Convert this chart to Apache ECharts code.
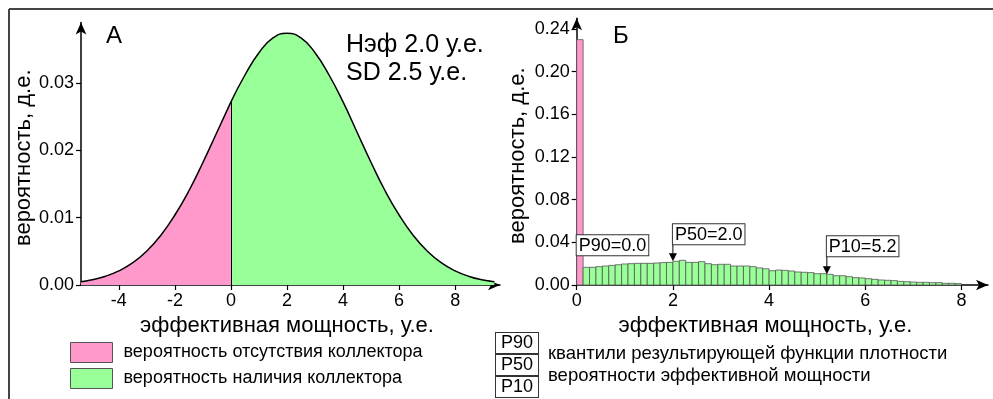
<!DOCTYPE html>
<html>
<head>
<meta charset="utf-8">
<script src="https://cdn.jsdelivr.net/npm/echarts@6/dist/echarts.min.js"></script>
<style>
  html, body { margin: 0; padding: 0; background: #fff; }
  #chart { width: 993px; height: 399px; }
</style>
</head>
<body>
<div id="chart"></div>
<script>
// ---- Panel А: probability curve of effective thickness ----
const curveX = [-5.35, -5, -4.5, -4, -3.5, -3, -2.5, -2, -1.5, -1, -0.5, 0,
                0.5, 1, 1.5, 2, 2.5, 3, 3.5, 4, 4.5, 5, 5.5, 6, 6.5, 7, 7.5, 8, 8.5, 9, 9.4];
const curveY = [0.0005, 0.00074, 0.00127, 0.0021, 0.00332, 0.00506, 0.0074, 0.0104, 0.0140, 0.0182, 0.0227, 0.0272,
                0.0312, 0.0345, 0.0367, 0.0374, 0.0367, 0.0345, 0.0312, 0.0272, 0.0227, 0.0182, 0.0140, 0.0104, 0.0074,
                0.00506, 0.00332, 0.0021, 0.00127, 0.00074, 0.00047];
const shareAbsent = 0.23;   // probability of no reservoir
const sharePresent = 0.77;  // probability of reservoir
const meanLabel = 'Нэф 2.0 у.е.';
const sdLabel = 'SD 2.5 у.е.';

// ---- Panel Б: resulting histogram (bins of 8/60 у.е. from 0 to 8) ----
const binWidth = 8 / 60;
const zeroBinHeight = shareAbsent;
const greenHeights = [
  0.0166, 0.0166, 0.0172, 0.0178, 0.0184, 0.0190, 0.0197, 0.0200, 0.0203, 0.0203,
  0.0203, 0.0206, 0.0210, 0.0212, 0.0222, 0.0231, 0.0212, 0.0212, 0.0219, 0.0200,
  0.0190, 0.0194, 0.0194, 0.0178, 0.0178, 0.0178, 0.0172, 0.0160, 0.0152, 0.0134,
  0.0140, 0.0137, 0.0131, 0.0122, 0.0119, 0.0116, 0.0106, 0.0106, 0.0100, 0.0087,
  0.0087, 0.0078, 0.0069, 0.0066, 0.0059, 0.0053, 0.0047, 0.0044, 0.0041, 0.0034,
  0.0031, 0.0028, 0.0025, 0.0025, 0.0022, 0.0022, 0.0016, 0.0016, 0.0013
];
const quantileNames = ['P90', 'P50', 'P10'];
const quantileValues = [0.0, 2.0, 5.2];

// tick labels
const ticksAx = [-4, -2, 0, 2, 4, 6, 8];
const ticksAy = [0, 0.01, 0.02, 0.03];
const ticksBx = [0, 2, 4, 6, 8];
const ticksBy = [0, 0.04, 0.08, 0.12, 0.16, 0.20, 0.24];

const xTitle = 'эффективная мощность, у.е.';
const yTitle = 'вероятность, д.е.';
const legendAbsent = 'вероятность отсутствия коллектора';
const legendPresent = 'вероятность наличия коллектора';
const quantileNote1 = 'квантили результирующей функции плотности';
const quantileNote2 = 'вероятности эффективной мощности';

// ---------------------------------------------------------------
const FONT = '"Liberation Sans", Arial, sans-serif';
const PINK = '#ff99cc';
const GREEN = '#99ff99';

const curvePts = curveX.map((x, i) => [x, curveY[i]]);
const leftPts = curvePts.filter(p => p[0] <= 0);
const rightPts = curvePts.filter(p => p[0] >= 0);
const yAtZero = curveY[curveX.indexOf(0)];

const pinkBins = [[0, binWidth, zeroBinHeight]];
const greenBins = greenHeights.map((h, i) => [(i + 1) * binWidth, (i + 2) * binWidth, h]);

function heightAt(x) {
  const idx = Math.floor(x / binWidth + 1e-9);
  return idx < 1 ? greenHeights[0] : greenHeights[idx - 1];
}
const quantileData = quantileValues.map((v, i) => [v, heightAt(v), i]);

function renderBin(params, api) {
  const p0 = api.coord([api.value(0), api.value(2)]);
  const p1 = api.coord([api.value(1), 0]);
  return {
    type: 'rect',
    shape: { x: p0[0], y: p0[1], width: p1[0] - p0[0], height: p1[1] - p0[1] },
    style: { fill: api.visual('color'), stroke: '#555', lineWidth: 0.8 }
  };
}

// gap (px) between the marker tip and its label box; arrow drawn when set
const quantileGap = [12, 17, 18];
const quantileArrow = [false, true, true];

function renderQuantile(params, api) {
  const i = api.value(2);
  const tip = api.coord([api.value(0), api.value(1)]);
  const boxBottom = tip[1] - quantileGap[i];
  const children = [];
  if (quantileArrow[i]) {
    children.push({
      type: 'line',
      shape: { x1: tip[0], y1: boxBottom, x2: tip[0], y2: tip[1] - 7 },
      style: { stroke: '#000', lineWidth: 1 }
    });
    children.push({
      type: 'polygon',
      shape: { points: [[tip[0] - 4, tip[1] - 8], [tip[0] + 4, tip[1] - 8], [tip[0], tip[1]]] },
      style: { fill: '#000' }
    });
  }
  children.push({
    type: 'text',
    x: tip[0], y: boxBottom,
    style: {
      text: quantileNames[i] + '=' + quantileValues[i].toFixed(1),
      font: '18px ' + FONT, fill: '#000',
      align: 'left', verticalAlign: 'bottom',
      backgroundColor: '#fff', borderColor: '#333', borderWidth: 1,
      padding: [1, 2, 0, 2], lineHeight: 19
    }
  });
  return { type: 'group', children };
}

const axisLineStyle = { color: '#000', width: 1.5 };
const tickLabel = { color: '#000', fontSize: 18, fontFamily: FONT };
const nameStyle = { color: '#000', fontSize: 22, fontFamily: FONT };

function valueAxis(extra) {
  return Object.assign({
    type: 'value',
    splitLine: { show: false },
    axisLine: { show: true, onZero: false, lineStyle: axisLineStyle, symbol: ['none', 'arrow'], symbolSize: [8, 12] },
    nameTextStyle: nameStyle
  }, extra);
}
function ticks(values) {
  return { show: true, length: 5, customValues: values, lineStyle: { color: '#000', width: 1.2 } };
}

function legendBox(name, color, top) {
  return {
    left: 65, top: top, orient: 'vertical',
    itemWidth: 42, itemHeight: 20,
    selectedMode: false, icon: 'rect',
    textStyle: { color: '#000', fontSize: 18, fontFamily: FONT, padding: [0, 0, 0, 6] },
    data: [{ name: name, itemStyle: { color: color, borderColor: '#555', borderWidth: 1 } }]
  };
}

const boxText = { font: '18px ' + FONT, fill: '#000', borderColor: '#333', borderWidth: 1, padding: [1, 5, 0, 5], lineHeight: 19, backgroundColor: '#fff' };

const option = {
  animation: false,
  backgroundColor: '#fff',
  grid: [
    { left: 81, top: 22.5, width: 419, height: 262.5 },
    { left: 576.7, top: 18.3, width: 411.3, height: 266.7 }
  ],
  xAxis: [
    valueAxis({
      gridIndex: 0, min: -5.35, max: 9.6,
      axisTick: ticks(ticksAx),
      axisLabel: Object.assign({ customValues: ticksAx, margin: 7 }, tickLabel),
      name: xTitle, nameLocation: 'middle', nameGap: 26,
      nameTextStyle: Object.assign({ padding: [0, 7, 0, 0] }, nameStyle)
    }),
    valueAxis({
      gridIndex: 1, min: 0, max: 8.55,
      axisTick: ticks(ticksBx),
      axisLabel: Object.assign({ customValues: ticksBx, margin: 7 }, tickLabel),
      name: xTitle, nameLocation: 'middle', nameGap: 26,
      nameTextStyle: Object.assign({ padding: [0, 34, 0, 0] }, nameStyle)
    })
  ],
  yAxis: [
    valueAxis({
      gridIndex: 0, min: 0, max: 0.039,
      axisTick: ticks(ticksAy),
      axisLabel: Object.assign({ customValues: ticksAy, margin: 7, formatter: v => v.toFixed(2) }, tickLabel),
      name: yTitle, nameLocation: 'middle', nameGap: 44,
      nameTextStyle: Object.assign({ padding: [0, 8, 0, 0] }, nameStyle)
    }),
    valueAxis({
      gridIndex: 1, min: 0, max: 0.25,
      axisTick: ticks(ticksBy),
      axisLabel: Object.assign({ customValues: ticksBy, margin: 7, formatter: v => v.toFixed(2) }, tickLabel),
      name: yTitle, nameLocation: 'middle', nameGap: 48,
      nameTextStyle: Object.assign({ padding: [0, 8, 0, 0] }, nameStyle)
    })
  ],
  legend: [
    legendBox(legendAbsent, PINK, 337),
    legendBox(legendPresent, GREEN, 363)
  ],
  graphic: [
    // outer frame
    { type: 'line', shape: { x1: 9, y1: 9, x2: 993, y2: 9 }, style: { stroke: '#444', lineWidth: 2 } },
    { type: 'line', shape: { x1: 9, y1: 9, x2: 9, y2: 399 }, style: { stroke: '#444', lineWidth: 2 } },
    // panel letters and parameters
    { type: 'text', x: 106, y: 24, style: { text: 'А', font: '24px ' + FONT, fill: '#000' } },
    { type: 'text', x: 613, y: 24, style: { text: 'Б', font: '24px ' + FONT, fill: '#000' } },
    { type: 'text', x: 346, y: 31, style: { text: meanLabel + '\n' + sdLabel, font: '25px ' + FONT, fill: '#000', lineHeight: 28 } },
    // quantile legend boxes
    { type: 'text', x: 496, y: 333, style: Object.assign({ text: 'P90' }, boxText) },
    { type: 'text', x: 496, y: 355, style: Object.assign({ text: 'P50' }, boxText) },
    { type: 'text', x: 496, y: 377, style: Object.assign({ text: 'P10' }, boxText) },
    { type: 'text', x: 548, y: 344, style: { text: quantileNote1, font: '18.5px ' + FONT, fill: '#000' } },
    { type: 'text', x: 548, y: 366, style: { text: quantileNote2, font: '18.5px ' + FONT, fill: '#000' } }
  ],
  series: [
    {
      name: legendAbsent, type: 'line', xAxisIndex: 0, yAxisIndex: 0,
      data: leftPts, smooth: true, symbol: 'none',
      lineStyle: { color: '#000', width: 1.5 },
      itemStyle: { color: PINK },
      areaStyle: { color: PINK, opacity: 1 }
    },
    {
      name: legendPresent, type: 'line', xAxisIndex: 0, yAxisIndex: 0,
      data: rightPts, smooth: true, symbol: 'none',
      lineStyle: { color: '#000', width: 1.5 },
      itemStyle: { color: GREEN },
      areaStyle: { color: GREEN, opacity: 1 },
      markLine: {
        silent: true, symbol: 'none', label: { show: false },
        lineStyle: { color: '#000', width: 1, type: 'solid' },
        data: [[{ coord: [0, 0] }, { coord: [0, yAtZero] }]]
      }
    },
    {
      type: 'scatter', xAxisIndex: 0, yAxisIndex: 0, symbolSize: 0, silent: true,
      data: [
        { value: [-1.36, 0.0055], label: { formatter: shareAbsent.toFixed(2) } },
        { value: [3.0, 0.0055], label: { formatter: sharePresent.toFixed(2) } }
      ],
      label: { show: true, position: 'inside', color: '#000', fontSize: 20, fontFamily: FONT }
    },
    {
      type: 'custom', xAxisIndex: 1, yAxisIndex: 1, renderItem: renderBin,
      itemStyle: { color: PINK }, data: pinkBins, silent: true
    },
    {
      type: 'custom', xAxisIndex: 1, yAxisIndex: 1, renderItem: renderBin,
      itemStyle: { color: GREEN }, data: greenBins, silent: true
    },
    {
      type: 'custom', xAxisIndex: 1, yAxisIndex: 1, renderItem: renderQuantile,
      data: quantileData, silent: true, clip: false, z: 10
    }
  ]
};

echarts.init(document.getElementById('chart')).setOption(option);
</script>
</body>
</html>
